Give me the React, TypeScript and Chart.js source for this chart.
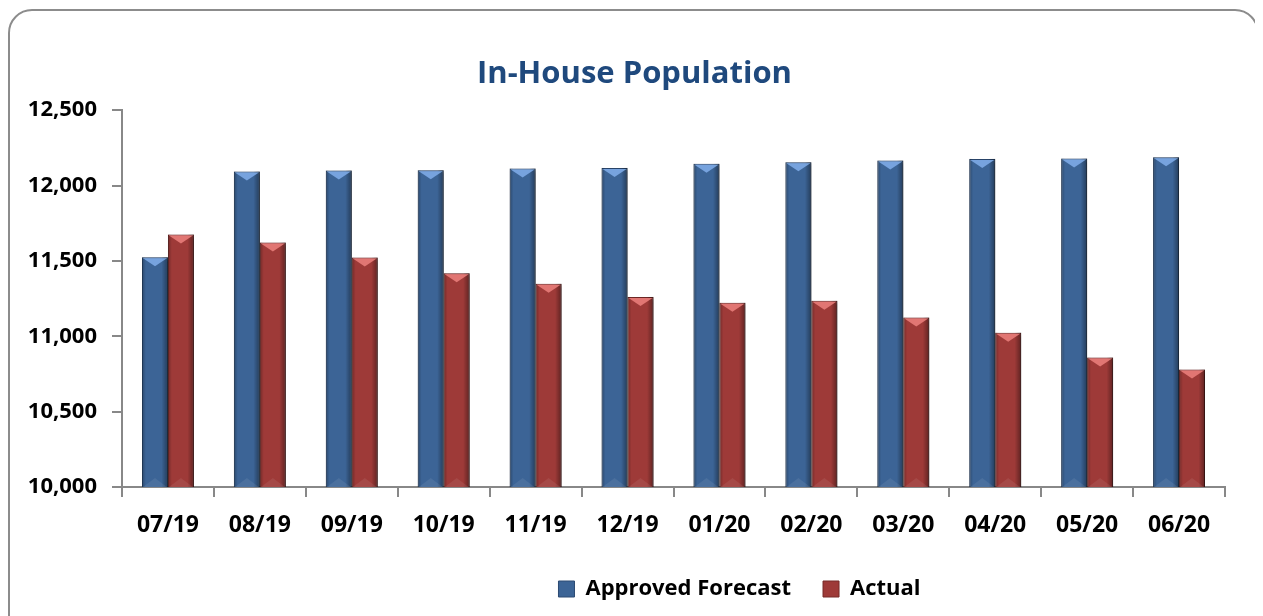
import React, { useEffect, useRef } from "react";
import { Chart, registerables } from "chart.js";

Chart.register(...registerables);

const categories = ["07/19", "08/19", "09/19", "10/19", "11/19", "12/19", "01/20", "02/20", "03/20", "04/20", "05/20", "06/20"];
const approvedForecast = [11525, 12093, 12100, 12102, 12113, 12117, 12144, 12155, 12166, 12177, 12179, 12188];
const actual = [11675, 11622, 11522, 11418, 11348, 11261, 11222, 11235, 11124, 11024, 10859, 10779];
const yTicks = [10000, 10500, 11000, 11500, 12000, 12500];

const FONT = "'Open Sans', 'Liberation Sans', sans-serif";

const bevelPlugin = {
  id: "bevel",
  afterLayout(chart: any) {
    const lg = chart.legend;
    if (lg) {
      lg.left += 122;
      lg.right += 122;
    }
    const tb = chart.titleBlock;
    if (tb) {
      tb.left += 17;
      tb.right += 17;
    }
  },
  beforeDatasetsDraw(chart: any) {
    const ctx = chart.ctx;
    ctx.save();
    ctx.shadowColor = "rgba(0,0,0,0.35)";
    ctx.shadowBlur = 4;
    ctx.shadowOffsetX = 2;
    ctx.shadowOffsetY = 1;
  },
  afterDatasetsDraw(chart: any) {
    const ctx = chart.ctx;
    ctx.restore();
    const area = chart.chartArea;
    const lights = ["rgba(125,170,230,0.9)", "rgba(232,125,122,0.9)"];
    ctx.save();
    ctx.beginPath();
    ctx.rect(area.left, area.top, area.right - area.left, area.bottom - area.top);
    ctx.clip();
    chart.data.datasets.forEach((_ds: any, di: number) => {
      const meta = chart.getDatasetMeta(di);
      meta.data.forEach((el: any) => {
        const { x, y, base, width } = el.getProps(["x", "y", "base", "width"], true);
        const L = x - width / 2;
        const R = x + width / 2;
        const top = Math.min(y, base);
        const bot = Math.min(Math.max(y, base), area.bottom);
        const g = ctx.createLinearGradient(L, 0, R, 0);
        g.addColorStop(0, "rgba(0,0,0,0.28)");
        g.addColorStop(0.15, "rgba(0,0,0,0)");
        g.addColorStop(0.75, "rgba(0,0,0,0)");
        g.addColorStop(1, "rgba(0,0,0,0.4)");
        ctx.fillStyle = g;
        ctx.fillRect(L, top, width, bot - top);
        const h = Math.min(width * 0.35, 9);
        ctx.beginPath();
        ctx.moveTo(L + 1, top + 1);
        ctx.lineTo(R - 1, top + 1);
        ctx.lineTo(x, top + h);
        ctx.closePath();
        ctx.fillStyle = lights[di];
        ctx.fill();
        ctx.beginPath();
        ctx.moveTo(L + 1, bot);
        ctx.lineTo(R - 1, bot);
        ctx.lineTo(x, bot - h);
        ctx.closePath();
        ctx.fillStyle = "rgba(255,255,255,0.08)";
        ctx.fill();
      });
    });
    ctx.restore();
  },
};

export default function App() {
  const ref = useRef<HTMLCanvasElement | null>(null);

  useEffect(() => {
    if (!ref.current) return;
    const chart = new Chart(ref.current, {
      type: "bar",
      data: {
        labels: categories,
        datasets: [
          {
            label: "Approved Forecast",
            data: approvedForecast,
            backgroundColor: "#3C6496",
            borderColor: "#2C4A72",
            borderWidth: 1,
            categoryPercentage: 0.565,
            barPercentage: 1,
          },
          {
            label: "Actual",
            data: actual,
            backgroundColor: "#9E3A38",
            borderColor: "#762A28",
            borderWidth: 1,
            categoryPercentage: 0.565,
            barPercentage: 1,
          },
        ],
      },
      options: {
        responsive: false,
        animation: false,
        layout: { padding: { top: 45, right: 32, bottom: 6, left: 0 } },
        plugins: {
          title: {
            display: true,
            text: "In-House Population",
            color: "#1F497D",
            font: { family: FONT, size: 31, weight: "bold" },
            padding: { top: 0, bottom: 17 },
          },
          legend: {
            position: "bottom",
            labels: {
              color: "#000",
              font: { family: FONT, size: 22, weight: "bold" },
              boxWidth: 16,
              boxHeight: 16,
              padding: 32,
            },
          },
          tooltip: { enabled: false },
        },
        scales: {
          x: {
            grid: { drawOnChartArea: false, drawTicks: true, tickLength: 10, color: "#888", lineWidth: 2, offset: true },
            border: { display: true, color: "#888", width: 2 },
            ticks: { color: "#000", font: { family: FONT, size: 23, weight: "bold" }, padding: 15, maxRotation: 0 },
            afterFit: (s: any) => { s.height = 59; },
          },
          y: {
            min: 10000,
            max: 12500,
            grid: { drawOnChartArea: false, drawTicks: true, tickLength: 10, color: "#888", lineWidth: 2 },
            border: { display: true, color: "#888", width: 2 },
            afterBuildTicks: (s: any) => { s.ticks = yTicks.map((v) => ({ value: v })); },
            ticks: {
              color: "#000",
              font: { family: FONT, size: 22, weight: "bold" },
              padding: 15,
              callback: (v: any) => Number(v).toLocaleString("en-US"),
            },
            afterFit: (s: any) => { s.width = 112; },
          },
        },
      },
      plugins: [bevelPlugin],
    });
    return () => chart.destroy();
  }, []);

  return (
    <div
      style={{
        position: "relative",
        width: 1251,
        height: 640,
        marginTop: 1,
        border: "2px solid #8c8c8c",
        borderRadius: 24,
        boxSizing: "border-box",
        background: "#fff",
      }}
    >
      <canvas ref={ref} width={1247} height={605} style={{ display: "block" }} />
    </div>
  );
}
